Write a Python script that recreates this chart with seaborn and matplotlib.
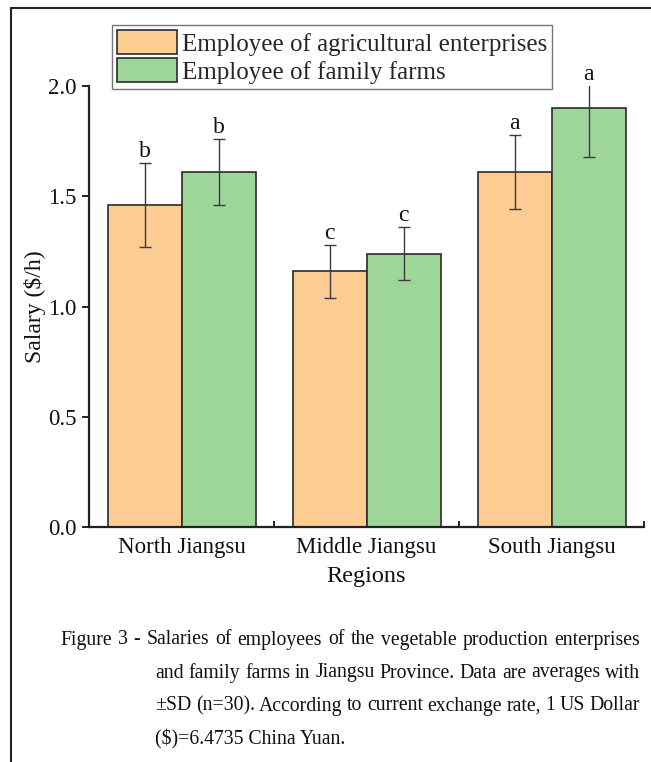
import matplotlib
matplotlib.use("Agg")
import matplotlib.pyplot as plt
from matplotlib.lines import Line2D
from matplotlib.ticker import FixedLocator, NullFormatter
import numpy as np
import pandas as pd
import seaborn as sns

# ---- data -------------------------------------------------------------
regions = ["North Jiangsu", "Middle Jiangsu", "South Jiangsu"]
groups = ["Employee of agricultural enterprises", "Employee of family farms"]
enterprise_mean = [1.46, 1.16, 1.61]
enterprise_sd = [0.19, 0.12, 0.17]
family_mean = [1.61, 1.24, 1.90]
family_sd = [0.15, 0.12, 0.22]
enterprise_letters = ["b", "c", "a"]
family_letters = ["b", "c", "a"]
y_ticks = [0.0, 0.5, 1.0, 1.5, 2.0]
caption_lines = [
    "Figure 3 - Salaries of employees of the vegetable production enterprises",
    "and family farms in Jiangsu Province. Data are averages with",
    "\u00b1SD (n=30). According to current exchange rate, 1 US Dollar",
    "($)=6.4735 China Yuan.",
]

colors = ["#FDCC92", "#9ED69A"]

df = pd.DataFrame({
    "Region": regions * 2,
    "Salary": enterprise_mean + family_mean,
    "SD": enterprise_sd + family_sd,
    "Letter": enterprise_letters + family_letters,
    "Group": [groups[0]] * 3 + [groups[1]] * 3,
})

# ---- style ------------------------------------------------------------
sns.set_style("ticks")
plt.rcParams["font.family"] = ["Liberation Serif", "DejaVu Serif"]
plt.rcParams["mathtext.fontset"] = "stix"

W, H = 651, 762
fig = plt.figure(figsize=(W / 100, H / 100), dpi=100)
ax = fig.add_axes([89 / W, (H - 527) / H, (644 - 89) / W, (527 - 86) / H])

sns.barplot(
    data=df, x="Region", y="Salary", hue="Group", order=regions,
    hue_order=groups, palette=colors, errorbar=None, width=0.8,
    edgecolor="#2b2b2b", linewidth=1.2, saturation=1, ax=ax,
)

# error bars and significance letters, placed on each bar's centre
ymax = 2.0
for container, g in zip(ax.containers, groups):
    sub = df[df["Group"] == g].set_index("Region").loc[regions]
    for bar, (_, row) in zip(container.patches, sub.iterrows()):
        xc = bar.get_x() + bar.get_width() / 2
        ax.errorbar(xc, row["Salary"], yerr=row["SD"], fmt="none",
                    ecolor="#3a3a3a", elinewidth=1.0, capsize=4.5,
                    capthick=1.0, zorder=5)
        top = min(row["Salary"] + row["SD"], ymax)
        ax.annotate(row["Letter"], xy=(xc, top), xytext=(0, 0.5),
                    textcoords="offset points", ha="center", va="bottom",
                    fontsize=17, annotation_clip=False, color="#111111")

# ---- axes -------------------------------------------------------------
ax.set_xlim(-0.5, 2.5)
ax.set_ylim(0, ymax)
ax.set_yticks(y_ticks)
ax.set_yticklabels([f"{t:.1f}" for t in y_ticks])
ax.xaxis.set_minor_locator(FixedLocator([0.5, 1.5, 2.5]))
ax.xaxis.set_minor_formatter(NullFormatter())
ax.tick_params(axis="x", which="major", length=0, labelsize=16.5, pad=7,
               colors="#111111")
ax.tick_params(axis="x", which="minor", direction="in", length=4,
               width=1.4, color="#222222")
ax.tick_params(axis="y", which="major", direction="out", length=5,
               width=1.4, labelsize=16.5, pad=4, labelcolor="#111111",
               color="#222222")
sns.despine(ax=ax)
for s in ("left", "bottom"):
    ax.spines[s].set_linewidth(1.6)
    ax.spines[s].set_color("#222222")

ax.set_xlabel("Regions", fontsize=17.5, labelpad=6, color="#111111")
ax.set_ylabel("Salary ($/h)", fontsize=17, color="#111111")
ax.yaxis.set_label_coords(-(89 - 35) / (644 - 89), 0.5)
ax.yaxis.label.set_va("center")

# legend above the plotting area
handles, labels = ax.get_legend_handles_labels()
leg = ax.legend(
    handles, labels, loc="upper left",
    bbox_to_anchor=(112 / W, 1 - 25 / H), bbox_transform=fig.transFigure,
    fontsize=18, frameon=True, fancybox=False, framealpha=1,
    edgecolor="#777777", handlelength=2.4, handleheight=1.1,
    handletextpad=0.2, labelspacing=0.1, borderpad=0.2, borderaxespad=0,
)
leg.get_frame().set_linewidth(1.0)
for h in leg.legend_handles:
    h.set_edgecolor("#2b2b2b")
    h.set_linewidth(1.2)

# ---- caption (justified, hanging indent) --------------------------------
caption_y = [640, 673, 706, 739]
caption_x = [60, 155, 155, 155]
right_edge = 640
cap_size = 14.2
renderer = fig.canvas.get_renderer()
for i, (line, x, y) in enumerate(zip(caption_lines, caption_x, caption_y)):
    words = line.split(" ")
    last = i == len(caption_lines) - 1
    if last:
        fig.text(x / W, 1 - y / H, line, fontsize=cap_size, ha="left",
                 va="center", color="#111111")
        continue
    artists = [fig.text(0, 1 - y / H, w, fontsize=cap_size, ha="left",
                        va="center", color="#111111") for w in words]
    widths = [a.get_window_extent(renderer).width for a in artists]
    gap = (right_edge - x - sum(widths)) / (len(words) - 1)
    pos = x
    for a, wd in zip(artists, widths):
        a.set_x(pos / W)
        pos += wd + gap

# ---- outer frame (left and top rules) ----------------------------------
fx, fy = 11 / W, 1 - 8 / H
fig.add_artist(Line2D([fx, fx], [0, fy], transform=fig.transFigure,
                      color="#222222", linewidth=1.5))
fig.add_artist(Line2D([fx, 1], [fy, fy], transform=fig.transFigure,
                      color="#222222", linewidth=1.5))

fig.savefig("out.png", dpi=100, facecolor="white")
